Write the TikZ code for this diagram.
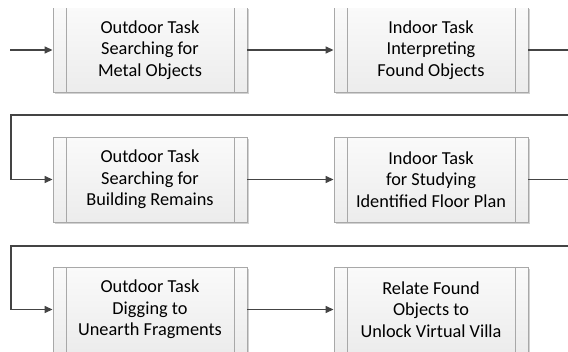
\documentclass[tikz,border=0pt]{standalone}
\usepackage{fontspec}
\setmainfont{Carlito}
\usetikzlibrary{arrows.meta,shadows}
\definecolor{boxgray}{HTML}{A8A8A8}
\definecolor{linegray}{HTML}{444444}
\definecolor{filltop}{HTML}{FAFAFA}
\definecolor{fillbot}{HTML}{ECECEC}
\begin{document}
\begin{tikzpicture}[x=1pt,y=-1pt,
  proc/.style={draw=boxgray, line width=0.9pt, top color=filltop, bottom color=fillbot,
    minimum width=194pt, minimum height=85pt, inner sep=0pt, align=center,
    font=\fontsize{18.3}{21.5}\selectfont, text=black,
    drop shadow={shadow xshift=1.6pt, shadow yshift=-1.6pt, fill=black!18, opacity=1},
    path picture={
      \draw[boxgray, line width=0.9pt]
        ([xshift=13pt]path picture bounding box.north west) -- ([xshift=13pt]path picture bounding box.south west)
        ([xshift=-13pt]path picture bounding box.north east) -- ([xshift=-13pt]path picture bounding box.south east);
    }},
  flow/.style={draw=linegray, line width=1.4pt, -{Triangle[length=8pt,width=7pt]}},
  link/.style={draw=linegray, line width=1.4pt}]
\useasboundingbox (0,0) rectangle (568,351);
\fill[white] (0,0) rectangle (568,351);
\clip (0,0) rectangle (568,351);
\begin{scope}
  \clip (0,8.6) rectangle (568,351);
  \node[proc] (b1) at (150,50) {Outdoor Task\\Searching for\\Metal Objects};
  \node[proc] (b2) at (431,50) {Indoor Task\\Interpreting\\Found Objects};
\end{scope}
\node[proc] (b3) at (150,179.5) {Outdoor Task\\Searching for\\Building Remains};
\node[proc] (b4) at (431,179.5) {Indoor Task\\for Studying\\Identified Floor Plan};
\node[proc] (b5) at (150,309.5) {Outdoor Task\\Digging to\\Unearth Fragments};
\node[proc] (b6) at (431,309.5) {Relate Found\\Objects to\\Unlock Virtual Villa};
\coordinate (start) at (10,50);
\coordinate (r1) at (580,50);
\coordinate (r2) at (580,179.5);
\draw[flow] (start) -- (b1.west);
\draw[flow] (b1.east) -- (b2.west);
\draw[flow] (b2.east) -- (r1) |- (11,115) |- (b3.west);
\draw[flow] (b3.east) -- (b4.west);
\draw[flow] (b4.east) -- (r2) |- (11,246) |- (b5.west);
\draw[flow] (b5.east) -- (b6.west);
\end{tikzpicture}
\end{document}
